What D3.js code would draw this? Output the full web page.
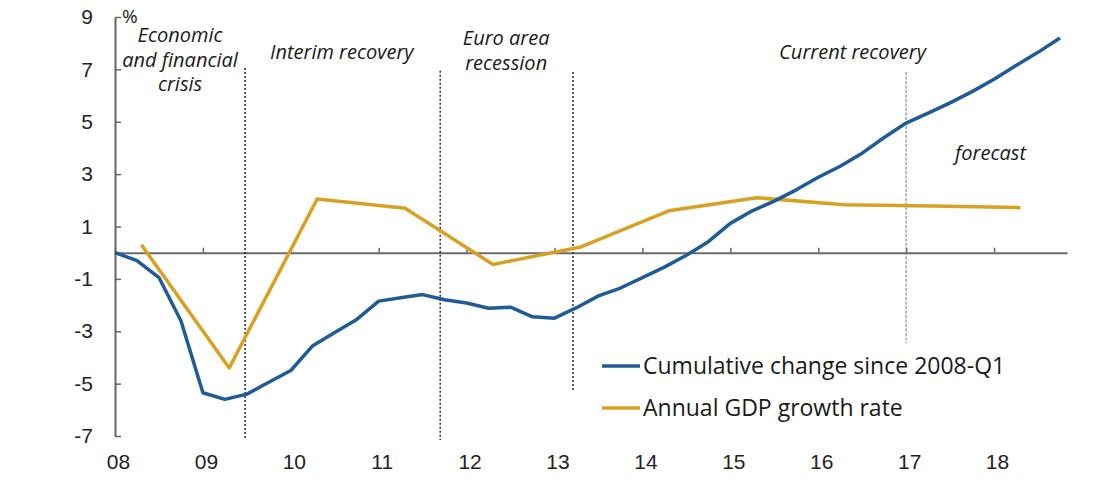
<!DOCTYPE html>
<meta charset="utf-8">
<style>
body { margin: 0; background: #fff; }
svg { font-family: "Open Sans", sans-serif; }
.tick text { fill: #222; font-size: 21px; }
.note { font-style: italic; font-size: 20px; fill: #1a1a1a; }
.legend text { font-size: 23px; fill: #1a1a1a; }
</style>
<body>
<script src="https://d3js.org/d3.v7.min.js"></script>
<script>

// quarterly cumulative change since 2008-Q1 (%)
var quarters = [2008, 2008.25, 2008.5, 2008.75, 2009, 2009.25, 2009.5, 2009.75,
  2010, 2010.25, 2010.5, 2010.75, 2011, 2011.25, 2011.5, 2011.75,
  2012, 2012.25, 2012.5, 2012.75, 2013, 2013.25, 2013.5, 2013.75,
  2014, 2014.25, 2014.5, 2014.75, 2015, 2015.25, 2015.5, 2015.75,
  2016, 2016.25, 2016.5, 2016.75, 2017, 2017.25, 2017.5, 2017.75,
  2018, 2018.25, 2018.5, 2018.75];
var cumulative = [0, -0.3, -0.95, -2.6, -5.35, -5.6, -5.4, -4.95,
  -4.5, -3.55, -3.05, -2.55, -1.85, -1.72, -1.6, -1.8,
  -1.92, -2.12, -2.08, -2.45, -2.5, -2.1, -1.65, -1.35,
  -0.95, -0.55, -0.1, 0.42, 1.12, 1.6, 1.97, 2.4,
  2.88, 3.3, 3.8, 4.4, 4.95, 5.33, 5.72, 6.15,
  6.62, 7.15, 7.65, 8.2];

// annual GDP growth rate (%)
var years = [2008, 2009, 2010, 2011, 2012, 2013, 2014, 2015, 2016, 2017, 2018];
var growth = [0.3, -4.4, 2.05, 1.7, -0.45, 0.22, 1.6, 2.1, 1.83, 1.78, 1.72];

var yTicks = [-7, -5, -3, -1, 1, 3, 5, 7, 9];
var xTicks = [2008, 2009, 2010, 2011, 2012, 2013, 2014, 2015, 2016, 2017, 2018];

var seriesNames = ["Cumulative change since 2008-Q1", "Annual GDP growth rate"];
var seriesColors = ["#1f5b98", "#d9a121"];

// period dividers (year position, top and bottom in % units)
var dividers = [
  {t: 2009.48, top: 7.05, bottom: -7.15, light: false},
  {t: 2011.70, top: 6.95, bottom: -7.15, light: false},
  {t: 2013.21, top: 6.9, bottom: -5.28, light: false},
  {t: 2017.0, top: 6.9, bottom: -3.45, light: true}
];

var notes = [
  {t: 2008.74, v: 8.04, lines: ["Economic", "and financial", "crisis"]},
  {t: 2010.58, v: 7.40, lines: ["Interim recovery"]},
  {t: 2012.45, v: 7.93, lines: ["Euro area", "recession"]},
  {t: 2016.39, v: 7.40, lines: ["Current recovery"]},
  {t: 2017.96, v: 3.54, lines: ["forecast"]}
];

var width = 1120, height = 502;
var annualOffset = 0.3;

var x = d3.scaleLinear().domain([2008, 2018.83]).range([115, 1067]);
var y = d3.scaleLinear().domain([-7, 9]).range([436, 17]);

var svg = d3.select("body").append("svg")
    .attr("width", width)
    .attr("height", height);

// y axis, ticks pointing inwards
var yAxis = svg.append("g")
    .attr("transform", "translate(" + x(2008) + ",0)")
    .call(d3.axisLeft(y).tickValues(yTicks).tickSizeInner(-6).tickSizeOuter(0).tickPadding(22)
      .tickFormat(function(d) { return d < 0 ? "-" + Math.abs(d) : String(d); }));
yAxis.select(".domain").attr("stroke", "#666").attr("stroke-width", 2);
yAxis.selectAll(".tick line").attr("stroke", "#666").attr("stroke-width", 1.5);

svg.append("text")
    .attr("x", x(2008) + 7)
    .attr("y", y(9) + 6)
    .attr("font-size", 19)
    .attr("fill", "#222")
    .text("%");

// x axis along zero, labels at the bottom
var xAxis = svg.append("g")
    .attr("transform", "translate(0," + y(0) + ")")
    .call(d3.axisBottom(x).tickValues(xTicks).tickSizeInner(-5).tickSizeOuter(0)
      .tickFormat(function(d) { return String(d).slice(2); }));
xAxis.select(".domain").attr("stroke", "#6a6a6a").attr("stroke-width", 2);
xAxis.selectAll(".tick line").attr("stroke", "#666").attr("stroke-width", 1.5);
xAxis.selectAll(".tick text")
    .attr("y", y(-7) + 33 - y(0))
    .attr("dy", 0)
    .attr("dx", 3);

// dividers
svg.selectAll("line.divider")
    .data(dividers)
  .enter().append("line")
    .attr("class", "divider")
    .attr("x1", function(d) { return x(d.t); })
    .attr("x2", function(d) { return x(d.t); })
    .attr("y1", function(d) { return y(d.top); })
    .attr("y2", function(d) { return y(d.bottom); })
    .attr("stroke", function(d) { return d.light ? "#777" : "#333"; })
    .attr("stroke-width", function(d) { return d.light ? 1 : 1.6; })
    .attr("stroke-dasharray", function(d) { return d.light ? "3,1.5" : "2,2"; });

// notes
notes.forEach(function(n) {
  var t = svg.append("text")
      .attr("class", "note")
      .attr("text-anchor", "middle")
      .attr("x", x(n.t))
      .attr("y", y(n.v));
  n.lines.forEach(function(l, i) {
    t.append("tspan")
      .attr("x", x(n.t))
      .attr("dy", i == 0 ? 0 : 24.5)
      .text(l);
  });
});

// lines
var cumData = quarters.map(function(q, i) { return [q, cumulative[i]]; });
var growthData = years.map(function(yr, i) { return [yr + annualOffset, growth[i]]; });

var line = d3.line()
    .x(function(d) { return x(d[0]); })
    .y(function(d) { return y(d[1]); });

svg.append("path")
    .datum(growthData)
    .attr("fill", "none")
    .attr("stroke", seriesColors[1])
    .attr("stroke-width", 3.5)
    .attr("stroke-linejoin", "round")
    .attr("d", line);

svg.append("path")
    .datum(cumData)
    .attr("fill", "none")
    .attr("stroke", seriesColors[0])
    .attr("stroke-width", 3.5)
    .attr("stroke-linejoin", "round")
    .attr("d", line);

// legend
var legend = svg.append("g").attr("class", "legend");
seriesNames.forEach(function(name, i) {
  var ly = 366 + i * 42;
  legend.append("line")
    .attr("x1", 602).attr("x2", 640)
    .attr("y1", ly).attr("y2", ly)
    .attr("stroke", seriesColors[i])
    .attr("stroke-width", 3.5);
  legend.append("text")
    .attr("x", 643)
    .attr("y", ly + 8)
    .text(name);
});

</script>
</body>
